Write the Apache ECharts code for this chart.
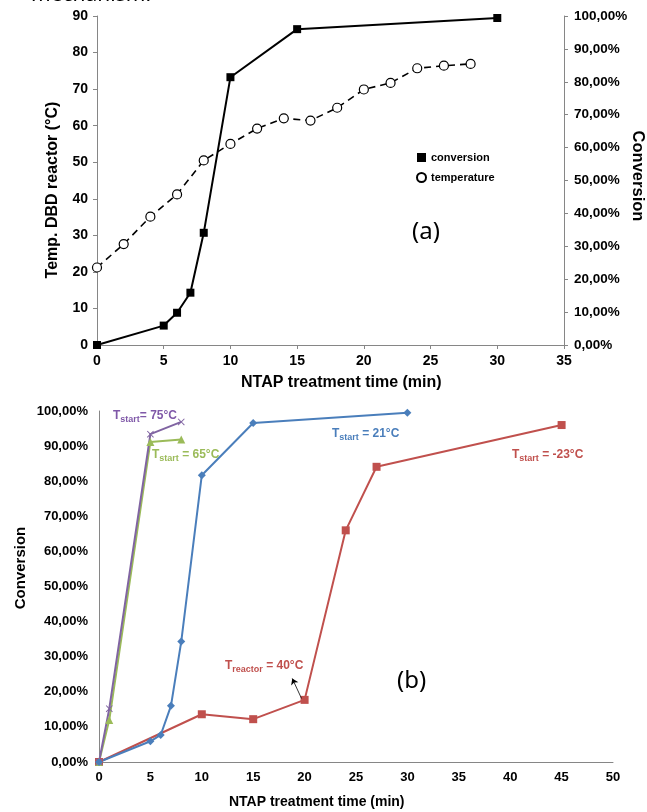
<!DOCTYPE html>
<html>
<head>
<meta charset="utf-8">
<script src="https://cdn.jsdelivr.net/npm/echarts@6/dist/echarts.min.js"></script>
<style>
html, body { margin: 0; padding: 0; background: #fff; }
#main { width: 647px; height: 812px; }
</style>
</head>
<body>
<div id="main"></div>
<script>
// (a) DBD reactor: conversion (%) and temperature (°C) vs time (min)
var convTime = [0, 5, 6, 7, 8, 10, 15, 30];
var convA = [0, 5.9, 9.8, 15.9, 34.1, 81.4, 96.0, 99.4];
var tempTime = [0, 2, 4, 6, 8, 10, 12, 14, 16, 18, 20, 22, 24, 26, 28];
var tempA = [21.2, 27.6, 35.1, 41.2, 50.5, 55.0, 59.2, 62.0, 61.4, 64.9, 69.9, 71.7, 75.7, 76.4, 76.9];

// (b) conversion (%) for different start temperatures
var t21 = [0, 5, 6, 7, 8, 10, 15, 30];
var c21 = [0, 5.9, 7.7, 16.0, 34.3, 81.7, 96.6, 99.5];
var tm23 = [0, 10, 15, 20, 24, 27, 45];
var cm23 = [0, 13.6, 12.2, 17.7, 66.0, 84.1, 96.0];
var t65 = [0, 1, 5, 8];
var c65 = [0, 12.0, 91.2, 91.9];
var t75 = [0, 1, 5, 8];
var c75 = [0, 15.2, 93.4, 96.9];

function pairs(xs, ys) {
    return xs.map(function (x, i) { return [x, ys[i]]; });
}
function pct(v) {
    return v.toFixed(2).replace('.', ',') + '%';
}

var FONT = 'Liberation Sans';
var AXIS_GRAY = '#868686';
var labelStyle = { color: '#000', fontFamily: FONT, fontWeight: 'bold' };

var myChart = echarts.init(document.getElementById('main'));

var xCross = 'path://M0,1 L1,0 L5,4 L9,0 L10,1 L6,5 L10,9 L9,10 L5,6 L1,10 L0,9 L4,5 Z';

function sub(main, s, rest, color, left, top) {
    return {
        type: 'text', left: left, top: top,
        style: {
            text: '{m|' + main + '}{s|' + s + '}{m|' + rest + '}',
            rich: {
                m: { fontFamily: FONT, fontWeight: 'bold', fontSize: 12, fill: color, lineHeight: 14 },
                s: { fontFamily: FONT, fontWeight: 'bold', fontSize: 9, fill: color, lineHeight: 10, padding: [7, 0, 0, 0] }
            }
        }
    };
}

var option = {
    backgroundColor: '#fff',
    animation: false,
    grid: [
        { left: 97, right: 83, top: 16, height: 329 },
        { left: 99, right: 34, top: 411, height: 351 }
    ],
    legend: {
        orient: 'vertical', left: 411, top: 147,
        itemWidth: 9, itemHeight: 9, itemGap: 9,
        textStyle: { fontFamily: FONT, fontWeight: 'bold', fontSize: 11, color: '#000' },
        data: [
            { name: 'conversion', icon: 'rect' },
            { name: 'temperature', icon: 'circle' }
        ]
    },
    xAxis: [{
        gridIndex: 0, type: 'value', min: 0, max: 35, interval: 5,
        axisLine: { lineStyle: { color: AXIS_GRAY } },
        axisTick: { show: true, length: 4, lineStyle: { color: AXIS_GRAY } },
        axisLabel: Object.assign({ fontSize: 14, margin: 9 }, labelStyle),
        splitLine: { show: false }
    }, {
        gridIndex: 1, type: 'value', min: 0, max: 50, interval: 5,
        axisLine: { lineStyle: { color: AXIS_GRAY } },
        axisTick: { show: false },
        axisLabel: Object.assign({ fontSize: 13, margin: 9 }, labelStyle),
        splitLine: { show: false }
    }],
    yAxis: [{
        gridIndex: 0, type: 'value', min: 0, max: 90, interval: 10,
        axisLine: { show: true, lineStyle: { color: AXIS_GRAY } },
        axisTick: { show: true, length: 4, lineStyle: { color: AXIS_GRAY } },
        axisLabel: Object.assign({ fontSize: 14, margin: 9 }, labelStyle),
        splitLine: { show: false }
    }, {
        gridIndex: 0, type: 'value', position: 'right', min: 0, max: 100, interval: 10,
        axisLine: { show: true, lineStyle: { color: AXIS_GRAY } },
        axisTick: { show: true, length: 4, lineStyle: { color: AXIS_GRAY } },
        axisLabel: Object.assign({ fontSize: 13.5, margin: 10, formatter: pct }, labelStyle),
        splitLine: { show: false }
    }, {
        gridIndex: 1, type: 'value', min: 0, max: 100, interval: 10,
        axisLine: { show: true, lineStyle: { color: AXIS_GRAY } },
        axisTick: { show: false },
        axisLabel: Object.assign({ fontSize: 13, margin: 11, formatter: pct }, labelStyle),
        splitLine: { show: false }
    }],
    graphic: [
        { type: 'text', left: 31, top: -15, style: { text: 'mechanism.', font: '21px "Noto Sans"', fill: '#000' } },
        { type: 'text', left: 412, top: 220, style: { text: '(a)', font: '24px "Noto Sans"', fill: '#000' } },
        { type: 'text', left: 397, top: 669, style: { text: '(b)', font: '24px "Noto Sans"', fill: '#000' } },
        { type: 'text', left: 241, top: 375, style: { text: 'NTAP treatment time (min)', font: 'bold 16px "Liberation Sans"', fill: '#000' } },
        { type: 'text', left: 229, top: 795, style: { text: 'NTAP treatment time (min)', font: 'bold 14px "Liberation Sans"', fill: '#000' } },
        { type: 'text', x: 53, y: 190, rotation: Math.PI / 2,
          style: { text: 'Temp. DBD reactor (°C)', font: 'bold 16px "Liberation Sans"', fill: '#000', align: 'center', verticalAlign: 'middle' } },
        { type: 'text', x: 638, y: 176, rotation: -Math.PI / 2,
          style: { text: 'Conversion', font: 'bold 16.5px "Liberation Sans"', fill: '#000', align: 'center', verticalAlign: 'middle' } },
        { type: 'text', x: 21, y: 568, rotation: Math.PI / 2,
          style: { text: 'Conversion', font: 'bold 15px "Liberation Sans"', fill: '#000', align: 'center', verticalAlign: 'middle' } },
        sub('T', 'start', '= 75°C', '#7F58A8', 113, 408),
        sub('T', 'start', ' = 65°C', '#9BBB59', 152, 447),
        sub('T', 'start', ' = 21°C', '#4A7EBB', 332, 426),
        sub('T', 'start', ' = -23°C', '#C0504D', 512, 447),
        sub('T', 'reactor', ' = 40°C', '#C0504D', 225, 658)
    ],
    series: [{
        name: 'conversion', type: 'line', xAxisIndex: 0, yAxisIndex: 1,
        data: pairs(convTime, convA),
        symbol: 'rect', symbolSize: 8,
        itemStyle: { color: '#000' },
        lineStyle: { color: '#000', width: 2 }
    }, {
        name: 'temperature', type: 'line', xAxisIndex: 0, yAxisIndex: 0,
        data: pairs(tempTime, tempA),
        symbol: 'circle', symbolSize: 9, showAllSymbol: true,
        itemStyle: { color: '#fff', borderColor: '#000', borderWidth: 1.2 },
        lineStyle: { color: '#000', width: 1.6, type: [7, 5] }
    }, {
        name: 'Tstart = -23°C', type: 'line', xAxisIndex: 1, yAxisIndex: 2,
        data: pairs(tm23, cm23),
        symbol: 'rect', symbolSize: 8,
        itemStyle: { color: '#C0504D' },
        lineStyle: { color: '#C0504D', width: 2 },
        markLine: {
            silent: true, symbol: ['none', 'arrow'], symbolSize: 6,
            label: { show: false },
            lineStyle: { color: '#000', width: 0.8, type: 'solid' },
            data: [[{ coord: [19.7, 18.1] }, { coord: [18.8, 23.8] }]]
        }
    }, {
        name: 'Tstart = 65°C', type: 'line', xAxisIndex: 1, yAxisIndex: 2,
        data: pairs(t65, c65),
        symbol: 'triangle', symbolSize: 8,
        itemStyle: { color: '#9BBB59' },
        lineStyle: { color: '#9BBB59', width: 2 }
    }, {
        name: 'Tstart = 75°C', type: 'line', xAxisIndex: 1, yAxisIndex: 2,
        data: pairs(t75, c75),
        symbol: xCross, symbolSize: 7,
        itemStyle: { color: '#8064A2' },
        lineStyle: { color: '#8064A2', width: 2 }
    }, {
        name: 'Tstart = 21°C', type: 'line', xAxisIndex: 1, yAxisIndex: 2,
        data: pairs(t21, c21),
        symbol: 'diamond', symbolSize: 8,
        itemStyle: { color: '#4A7EBB' },
        lineStyle: { color: '#4A7EBB', width: 2 }
    }]
};

myChart.setOption(option);
</script>
</body>
</html>
